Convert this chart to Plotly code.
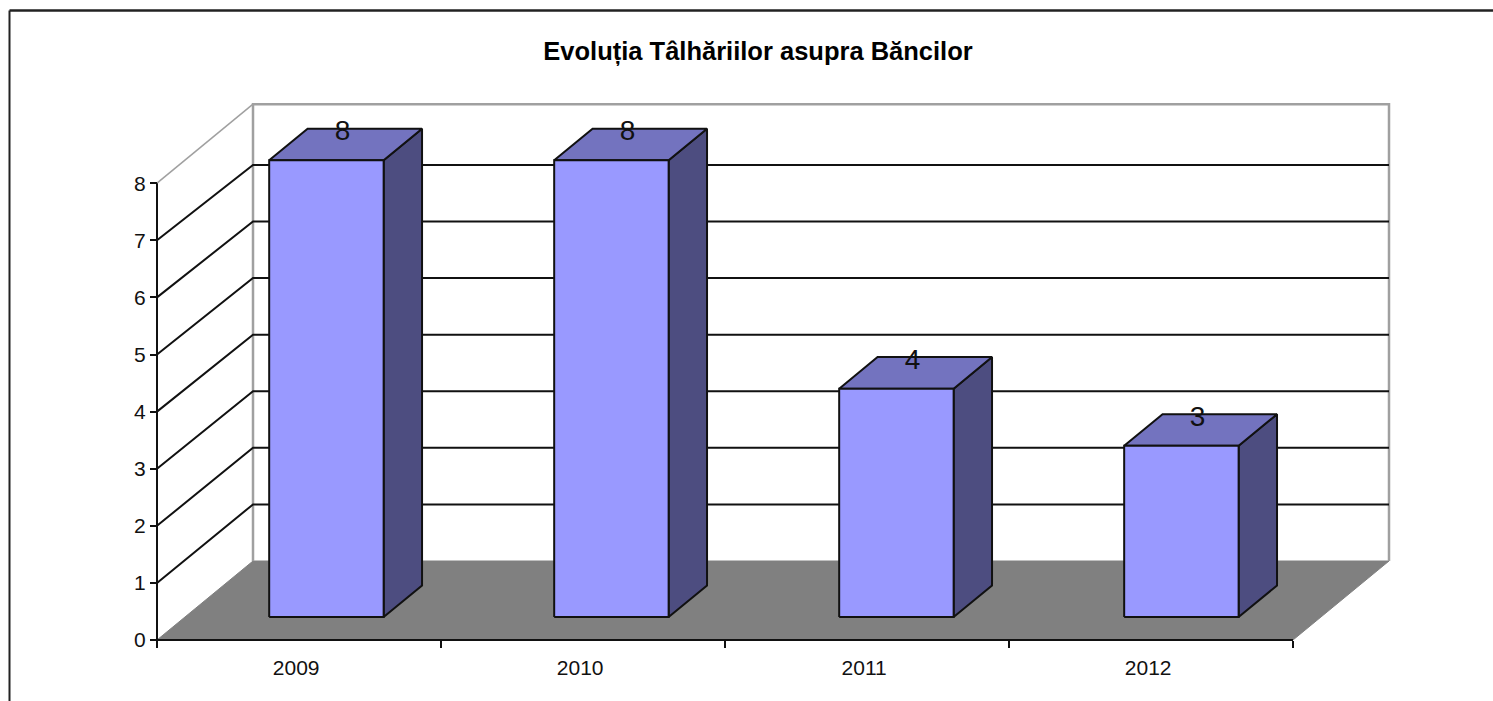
import plotly.graph_objects as go

# ---- data ----
years = ["2009", "2010", "2011", "2012"]
robberies = [8, 8, 4, 3]
value_ticks = [0, 1, 2, 3, 4, 5, 6, 7, 8]
title_text = "Evoluția Tâlhăriilor asupra Băncilor"

# ---- layout constants ----
W, H = 1493, 701
X0_PX, Y0_PX = 157, 640          # origin of the front plane, pixels
UX, UY = 284.0, 57.1             # pixels per category / per value unit
DEPTH_X, DEPTH_Y = 96 / UX, 79 / UY   # oblique depth vector, in data units
BAR_L, BAR_R = 0.297, 0.70       # bar extent inside a category
BAR_D0, BAR_D1 = 0.29, 0.69      # bar extent along the depth
BAR_STEP = 1.0035                # spacing of the bars along the category axis
GRID_BACK_SCALE = 0.991          # gridlines sit slightly closer together on the back wall
FONT = "Liberation Sans, Arial, sans-serif"
BLACK, GREY = "#111111", "#A0A0A0"
FRONT, TOP, SIDE, FLOOR = "#9999FF", "#7373BF", "#4D4D80", "#808080"


def P(x, v, d):
    """Oblique projection of (category position, value, depth)."""
    return x + d * DEPTH_X, v + d * DEPTH_Y


def poly(points, fill, line=BLACK, width=2):
    xs, ys = zip(*points)
    return go.Scatter(x=list(xs) + [xs[0]], y=list(ys) + [ys[0]], mode="lines",
                      fill="toself", fillcolor=fill,
                      line=dict(color=line, width=width),
                      hoverinfo="skip", showlegend=False)


def seg(points, color=BLACK, width=2):
    xs, ys = zip(*points)
    return go.Scatter(x=list(xs), y=list(ys), mode="lines",
                      line=dict(color=color, width=width),
                      hoverinfo="skip", showlegend=False)


n = len(years)
vmax = max(value_ticks)
fig = go.Figure()

# floor
fig.add_trace(poly([P(0, 0, 0), P(0, 0, 1), P(n, 0, 1), P(n, 0, 0)], FLOOR, FLOOR, 1))

# walls: outline and gridlines
fig.add_trace(seg([P(0, 0, 1), P(0, vmax, 1), P(n, vmax, 1), P(n, 0, 1)], GREY, 2.5))
fig.add_trace(seg([P(0, vmax, 0), P(0, vmax, 1)], GREY, 1.5))
for v in value_ticks[1:-1]:
    vb = v * GRID_BACK_SCALE
    fig.add_trace(seg([P(0, v, 0), P(0, vb, 1), P(n, vb, 1)]))

# front axis lines
fig.add_trace(seg([(0, 0), (0, vmax)]))
fig.add_trace(seg([(0, 0), (n, 0)]))

# bars
for i, v in enumerate(robberies):
    l, r = i * BAR_STEP + BAR_L, i * BAR_STEP + BAR_R
    fig.add_trace(poly([P(r, 0, BAR_D0), P(r, 0, BAR_D1), P(r, v, BAR_D1), P(r, v, BAR_D0)], SIDE))
    fig.add_trace(poly([P(l, v, BAR_D0), P(l, v, BAR_D1), P(r, v, BAR_D1), P(r, v, BAR_D0)], TOP))
    fig.add_trace(poly([P(l, 0, BAR_D0), P(r, 0, BAR_D0), P(r, v, BAR_D0), P(l, v, BAR_D0)], FRONT))

# data labels: near the back of the top face
lab = [P(i * BAR_STEP + 0.44, v, 0.63) for i, v in enumerate(robberies)]
fig.add_trace(go.Scatter(x=[p[0] for p in lab], y=[p[1] for p in lab], mode="text",
                         text=[str(v) for v in robberies], textposition="middle center",
                         textfont=dict(family=FONT, size=28, color=BLACK),
                         hoverinfo="skip", showlegend=False))

fig.update_layout(
    width=W, height=H, autosize=False,
    margin=dict(l=0, r=0, t=0, b=0, pad=0),
    paper_bgcolor="white", plot_bgcolor="white",
    showlegend=False,
    title=dict(text="<b>" + title_text + "</b>", x=758 / W, y=1 - 51 / H,
               xanchor="center", yanchor="middle",
               font=dict(family=FONT, size=25.5, color="#000000")),
    xaxis=dict(range=[-X0_PX / UX, (W - X0_PX) / UX], domain=[0, 1],
               anchor="free", position=(H - Y0_PX) / H,
               showgrid=False, zeroline=False, showline=False,
               tickmode="array", tickvals=[i + 0.49 for i in range(n)], ticktext=years,
               ticks="outside", ticklen=9, tickcolor="rgba(0,0,0,0)",
               minor=dict(tickmode="array", tickvals=list(range(n + 1)), ticks="outside",
                          ticklen=7, tickwidth=2, tickcolor=BLACK, showgrid=False),
               tickfont=dict(family=FONT, size=21, color=BLACK)),
    yaxis=dict(range=[-(H - Y0_PX) / UY, Y0_PX / UY], domain=[0, 1],
               anchor="free", position=X0_PX / W,
               showgrid=False, zeroline=False, showline=False,
               tickmode="array", tickvals=value_ticks, ticktext=[str(v) for v in value_ticks],
               ticks="outside", ticklen=7, tickwidth=2, tickcolor=BLACK,
               tickfont=dict(family=FONT, size=21, color=BLACK)),
    shapes=[
        dict(type="line", xref="paper", yref="paper", x0=9.5 / W, x1=1, y0=1 - 10.5 / H, y1=1 - 10.5 / H,
             line=dict(color="#222222", width=2.5)),
        dict(type="line", xref="paper", yref="paper", x0=9.5 / W, x1=9.5 / W, y0=0, y1=1 - 10.5 / H,
             line=dict(color="#222222", width=2)),
    ],
)

fig.write_html("out.html", config=dict(displayModeBar=False),
               post_script="document.body.style.margin='0';document.documentElement.style.overflow='hidden';")
